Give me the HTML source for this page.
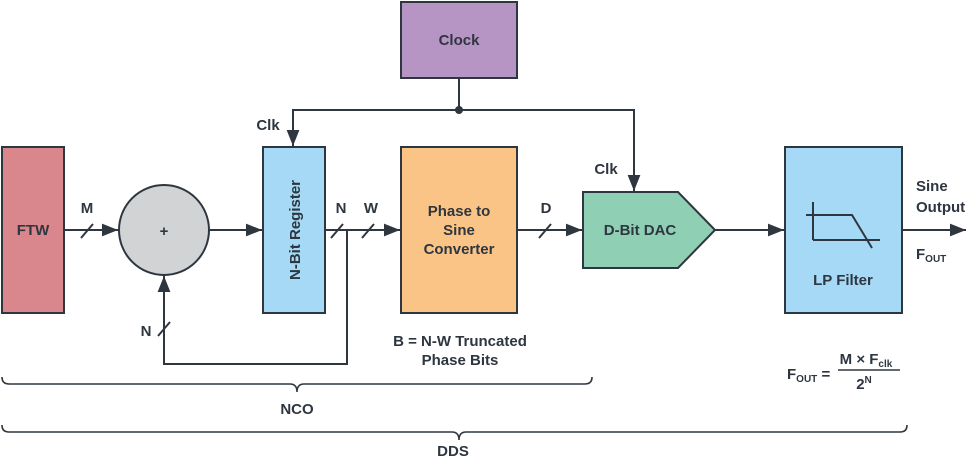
<!DOCTYPE html>
<html><head><meta charset="utf-8"><style>
html,body{margin:0;padding:0;background:#fff;}
svg{display:block;font-family:"Liberation Sans",Arial,sans-serif;font-weight:bold;}
</style></head><body>
<svg width="970" height="459" viewBox="0 0 970 459" xmlns="http://www.w3.org/2000/svg">
<defs>
<marker id="a" viewBox="0 0 10 10" refX="10" refY="5" markerWidth="16" markerHeight="16" markerUnits="userSpaceOnUse" orient="auto">
<path d="M0,1 L10,5 L0,9 z" fill="#2e3640"/></marker>
</defs>
<g stroke="#2e3640" stroke-width="2" fill="none">
<rect x="2" y="147" width="62" height="166" fill="#d9868c"/>
<circle cx="164" cy="230" r="45" fill="#d1d3d4"/>
<rect x="263" y="147" width="62" height="166" fill="#a5d9f5"/>
<rect x="401" y="147" width="116" height="166" fill="#fbc487"/>
<rect x="401" y="2" width="116" height="76" fill="#b694c4"/>
<path d="M583,192 L678,192 L715,230 L678,268 L583,268 Z" fill="#8fd0b5"/>
<rect x="785" y="147" width="117" height="166" fill="#a5d9f5"/>
<line x1="64" y1="230" x2="118" y2="230" marker-end="url(#a)"/>
<line x1="209" y1="230" x2="262" y2="230" marker-end="url(#a)"/>
<line x1="325" y1="230" x2="400" y2="230" marker-end="url(#a)"/>
<line x1="517" y1="230" x2="582" y2="230" marker-end="url(#a)"/>
<line x1="715" y1="230" x2="784" y2="230" marker-end="url(#a)"/>
<line x1="902" y1="230" x2="966" y2="230" marker-end="url(#a)"/>
<line x1="459" y1="78" x2="459" y2="110"/>
<polyline points="293,146 293,110 634,110 634,191"/>
<line x1="293" y1="120" x2="293" y2="146" marker-end="url(#a)"/>
<line x1="634" y1="170" x2="634" y2="191" marker-end="url(#a)"/>
<polyline points="347,230 347,364 164,364 164,276"/>
<line x1="164" y1="300" x2="164" y2="276" marker-end="url(#a)"/>
<line x1="81" y1="238" x2="93" y2="224"/>
<line x1="331" y1="238" x2="343" y2="224"/>
<line x1="362" y1="238" x2="374" y2="224"/>
<line x1="539" y1="238" x2="551" y2="224"/>
<line x1="158" y1="336" x2="170" y2="322"/>
<polyline points="806,215 852,215 872,248"/>
<line x1="813" y1="202" x2="813" y2="240"/>
<line x1="813" y1="240" x2="880" y2="240"/>
<path d="M2,377 Q2,384 9,384 L290,384 Q297,384 297,392 Q297,384 304,384 L585,384 Q592,384 592,377" stroke-width="1.6"/>
<path d="M2,425 Q2,432 9,432 L452,432 Q459,432 459,440 Q459,432 466,432 L900,432 Q907,432 907,425" stroke-width="1.6"/>
<line x1="838" y1="370" x2="900" y2="370" stroke-width="1.5"/>
</g>
<circle cx="459" cy="110" r="4" fill="#2e3640"/>
<g fill="#2e3640" font-size="15" text-anchor="middle">
<text x="33" y="235">FTW</text>
<text x="164" y="236">+</text>
<text x="459" y="45">Clock</text>
<text x="459" y="216">Phase to</text>
<text x="459" y="235">Sine</text>
<text x="459" y="254">Converter</text>
<text x="640" y="235">D-Bit DAC</text>
<text x="843" y="285">LP Filter</text>
<text x="0" y="0" transform="translate(300,230) rotate(-90)">N-Bit Register</text>
<text x="87" y="213">M</text>
<text x="341" y="213">N</text>
<text x="371" y="213">W</text>
<text x="546" y="213">D</text>
<text x="146" y="336">N</text>
<text x="268" y="130">Clk</text>
<text x="606" y="174">Clk</text>
<text x="460" y="346">B = N-W Truncated</text>
<text x="460" y="365">Phase Bits</text>
<text x="297" y="414">NCO</text>
<text x="453" y="456">DDS</text>
<text x="866" y="364">M × F<tspan font-size="10" dy="3">clk</tspan></text>
<text x="864" y="389">2<tspan font-size="10" dy="-6">N</tspan></text>
</g>
<g fill="#2e3640" font-size="15">
<text x="916" y="191">Sine</text>
<text x="916" y="212">Output</text>
<text x="916" y="259">F<tspan font-size="10" dy="3">OUT</tspan></text>
<text x="787" y="379">F<tspan font-size="10" dy="3">OUT</tspan><tspan dy="-3"> =</tspan></text>
</g>
</svg>
</body></html>
